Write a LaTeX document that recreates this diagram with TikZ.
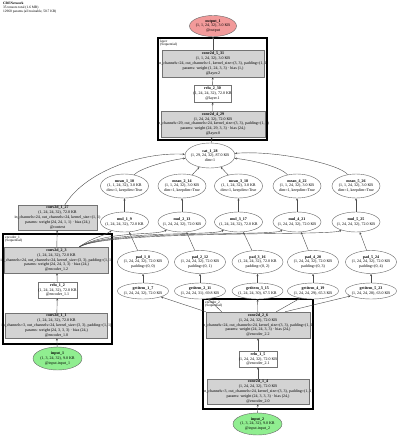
\documentclass[tikz,border=0pt]{standalone}
\usepackage{fontspec}
\setmainfont{Liberation Serif}
\usetikzlibrary{shapes.geometric,arrows.meta,calc}
\definecolor{outfill}{HTML}{F29A9A}
\definecolor{infill}{HTML}{90EE90}
\definecolor{opfill}{HTML}{D3D3D3}
\begin{document}
\begin{tikzpicture}[x=1pt,y=-1pt,
  lbl/.style={font=\fontsize{4.0}{4.8}\selectfont, align=center, text=black},
  opbox/.style={lbl, rectangle, draw=black!55, fill=opfill, line width=0.4, inner ysep=0, inner xsep=-4},
  plainbox/.style={lbl, rectangle, draw=black!55, fill=white, line width=0.4, inner ysep=0, inner xsep=-3},
  ell/.style={lbl, ellipse, draw=black!60, fill=white, line width=0.4, inner xsep=-7, inner ysep=-1},
  cluster/.style={draw=black, line width=1.5},
  clab/.style={font=\fontsize{3.5}{3.8}\selectfont, align=left, anchor=north west, inner sep=0},
  edge/.style={draw=black!70, line width=0.4, -{Stealth[length=2.4,width=2]}}]
\useasboundingbox (0,0) rectangle (400,437);
\fill[white] (0,0) rectangle (400,437);

% header
\node[clab] (hdr) at (3,2) {\textbf{CRENetwork}\\35 tensors total (1.6 MB)\\12960 params (all trainable, 50.7 KB)};

% clusters
\draw[cluster] (158,38) rectangle (267,140);
\node[clab] (laylab) at (160,39.5) {layer\\(Sequential)};
\draw[cluster] (3,234) rectangle (112,344);
\node[clab] (e1lab) at (5,235.5) {encoder\_1\\(Sequential)};
\draw[cluster] (203,299) rectangle (313,409);
\node[clab] (e2lab) at (205,300.5) {encoder\_2\\(Sequential)};

% top part
\node[ell, fill=outfill, minimum width=47, minimum height=21] (out) at (213,26)
  {\textbf{output\_1}\\(1, 1, 24, 32), 3.0 KB\\@output};
\node[opbox, minimum width=100, minimum height=27] (l2) at (213,63.5)
  {\textbf{conv2d\_5\_31}\\(1, 1, 24, 32), 3.0 KB\\in\_channels=24, out\_channels=1, kernel\_size=(3, 3), padding=(1, 1)\\params: weight (1, 24, 3, 3) · bias (1,)\\@layer.2};
\node[plainbox, minimum width=37, minimum height=17] (l1) at (212.5,93.5)
  {\textbf{relu\_2\_30}\\(1, 24, 24, 32), 72.0 KB\\@layer.1};
\node[opbox, minimum width=100, minimum height=26] (l0) at (213,124)
  {\textbf{conv2d\_4\_29}\\(1, 24, 24, 32), 72.0 KB\\in\_channels=29, out\_channels=24, kernel\_size=(3, 3), padding=(1, 1)\\params: weight (24, 29, 3, 3) · bias (24,)\\@layer.0};
\node[ell, minimum width=50, minimum height=25] (cat) at (210,155.5)
  {\textbf{cat\_1\_28}\\(1, 29, 24, 32), 87.0 KB\\dim=1};

% mean / mul rows
\foreach \i/\x/\mn/\mu in {1/124.5/10/9, 2/182/14/13, 3/238.5/18/17, 4/297/22/21, 5/356/26/25}{
  \node[ell, minimum width=48, minimum height=24] (mean\i) at (\x,186)
    {\textbf{mean\_\i\_\mn}\\(1, 1, 24, 32), 3.0 KB\\dim=1, keepdim=True};
  \node[ell, minimum width=48, minimum height=20] (mul\i) at (\x,222)
    {\textbf{mul\_\i\_\mu}\\(1, 24, 24, 32), 72.0 KB};
}

% pad / getitem rows
\foreach \i/\x/\pd/\gd/\w/\kb/\p in {1/143/8/7/32/72.0/0, 2/200/12/11/31/69.8/1, 3/257.5/16/15/30/67.5/2, 4/313/20/19/29/65.3/3, 5/371/24/23/28/63.0/4}{
  \node[ell, minimum width=51, minimum height=23] (pad\i) at (\x,262)
    {\textbf{pad\_\i\_\pd}\\(1, 24, 24, 32), 72.0 KB\\padding=(0, \p)};
  \node[ell, minimum width=51, minimum height=16] (gi\i) at (\x,291)
    {\textbf{getitem\_\i\_\gd}\\(1, 24, 24, \w), \kb{} KB};
}

% context conv
\node[opbox, minimum width=79, minimum height=25] (ctx) at (57.5,217.5)
  {\textbf{conv2d\_1\_27}\\(1, 24, 24, 32), 72.0 KB\\in\_channels=24, out\_channels=24, kernel\_size=(1, 1)\\params: weight (24, 24, 1, 1) · bias (24,)\\@context};

% encoder 1
\node[opbox, minimum width=99, minimum height=26] (e1c3) at (56.5,260)
  {\textbf{conv2d\_2\_3}\\(1, 24, 24, 32), 72.0 KB\\in\_channels=24, out\_channels=24, kernel\_size=(3, 3), padding=(1, 1)\\params: weight (24, 24, 3, 3) · bias (24,)\\@encoder\_1.2};
\node[plainbox, minimum width=39, minimum height=16] (e1r) at (57.5,290)
  {\textbf{relu\_1\_2}\\(1, 24, 24, 32), 72.0 KB\\@encoder\_1.1};
\node[opbox, minimum width=99, minimum height=25] (e1c1) at (56.5,325.5)
  {\textbf{conv2d\_1\_1}\\(1, 24, 24, 32), 72.0 KB\\in\_channels=3, out\_channels=24, kernel\_size=(3, 3), padding=(1, 1)\\params: weight (24, 3, 3, 3) · bias (24,)\\@encoder\_1.0};
\node[ell, fill=infill, minimum width=49, minimum height=23] (in1) at (57.5,358.5)
  {\textbf{input\_1}\\(1, 3, 24, 32), 9.0 KB\\@input.input\_1};

% encoder 2
\node[opbox, minimum width=100, minimum height=26] (e2c3) at (258,325)
  {\textbf{conv2d\_2\_6}\\(1, 24, 24, 32), 72.0 KB\\in\_channels=24, out\_channels=24, kernel\_size=(3, 3), padding=(1, 1)\\params: weight (24, 24, 3, 3) · bias (24,)\\@encoder\_2.2};
\node[plainbox, minimum width=38, minimum height=16] (e2r) at (258,359)
  {\textbf{relu\_1\_5}\\(1, 24, 24, 32), 72.0 KB\\@encoder\_2.1};
\node[opbox, minimum width=100, minimum height=25] (e2c1) at (258,391.5)
  {\textbf{conv2d\_1\_4}\\(1, 24, 24, 32), 72.0 KB\\in\_channels=3, out\_channels=24, kernel\_size=(3, 3), padding=(1, 1)\\params: weight (24, 3, 3, 3) · bias (24,)\\@encoder\_2.0};
\node[ell, fill=infill, minimum width=49, minimum height=22] (in2) at (257.5,424)
  {\textbf{input\_2}\\(1, 3, 24, 32), 9.0 KB\\@input.input\_2};

% edges: encoder 1 chain
\draw[edge] (in1) -- (e1c1);
\draw[edge] (e1c1) -- (e1r);
\draw[edge] (e1r) -- (e1c3);
\draw[edge] (e1c3) -- (ctx);
\draw[edge] (e1c3.30) .. controls (95,236) and (102,237) .. (mul1);
\draw[edge] (e1c3.30) .. controls (110,230) and (155,236) .. (mul2);
\draw[edge] (e1c3.30) .. controls (110,230) and (213,236) .. (mul3);
\draw[edge] (e1c3.30) .. controls (110,230) and (272,236) .. (mul4);
\draw[edge] (e1c3.30) .. controls (110,230) and (331,236) .. (mul5);

% edges: encoder 2 chain
\draw[edge] (in2) -- (e2c1);
\draw[edge] (e2c1) -- (e2r);
\draw[edge] (e2r) -- (e2c3);
\draw[edge] (e2c3.north west) -- (gi1);
\draw[edge] (e2c3.160) -- (gi2);
\draw[edge] (e2c3) -- (gi3);
\draw[edge] (e2c3.36) -- (gi4);
\draw[edge] (e2c3.26) -- (gi5);

\foreach \i in {1,...,5}{
  \draw[edge] (gi\i) -- (pad\i);
  \draw[edge] (pad\i) -- (mul\i);
  \draw[edge] (mul\i) -- (mean\i);
}

% into cat
\draw[edge] (ctx.60) .. controls (85,172) and (140,152) .. (cat);
\draw[edge] (mean1) .. controls (140,168) and (170,160) .. (cat);
\draw[edge] (mean2) -- (cat);
\draw[edge] (mean3) -- (cat);
\draw[edge] (mean4) .. controls (280,166) and (250,160) .. (cat);
\draw[edge] (mean5) .. controls (340,164) and (275,150) .. (cat);

% top chain
\draw[edge] (cat) -- (l0);
\draw[edge] (l0) -- (l1);
\draw[edge] (l1) -- (l2);
\draw[edge] (l2) -- (out);
\end{tikzpicture}
\end{document}
